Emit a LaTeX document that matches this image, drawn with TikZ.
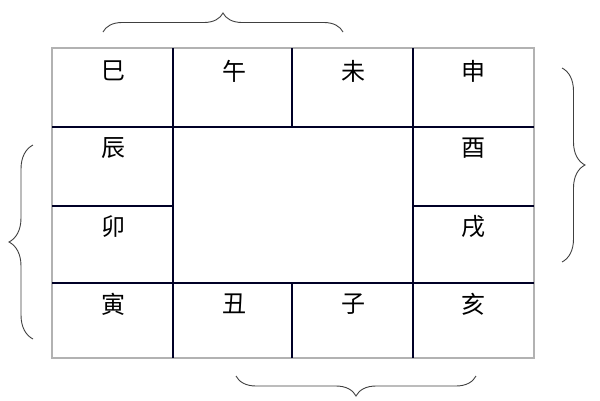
\documentclass[tikz,border=0pt]{standalone}
\usepackage{fontspec}
\newfontfamily\cjk{Noto Sans CJK SC}
\usetikzlibrary{decorations.pathreplacing}
\begin{document}
\begin{tikzpicture}[x=1pt,y=-1pt,
  branch/.style={font=\cjk\fontsize{24}{24}\selectfont,inner sep=0pt},
  cell line/.style={draw=black!85!blue,line width=1.5pt},
  frame line/.style={draw=black!30,line width=1.5pt},
  brace line/.style={draw=black!75,line width=0.9pt,decorate,decoration={brace,amplitude=#1}}]
\useasboundingbox (0,0) rectangle (600,400);
% frame
\coordinate (nw) at (52,48);
\coordinate (se) at (534,358);
\draw[frame line] (nw) rectangle (se);
\draw[cell line] (173,48) -- (173,358);
\draw[cell line] (413,48) -- (413,358);
\draw[cell line] (292,48) -- (292,127);
\draw[cell line] (292,283) -- (292,358);
\draw[cell line] (52,127) -- (534,127);
\draw[cell line] (52,283) -- (534,283);
\draw[cell line] (52,206) -- (173,206);
\draw[cell line] (413,206) -- (534,206);
% branches
\node[branch] (si)   at (113,71)  {巳};
\node[branch] (wu)   at (234,71)  {午};
\node[branch] (wei)  at (353,71)  {未};
\node[branch] (shen) at (473,71)  {申};
\node[branch] (chen) at (113,148) {辰};
\node[branch] (you)  at (473,148) {酉};
\node[branch] (mao)  at (113,227) {卯};
\node[branch] (xu)   at (473,227) {戌};
\node[branch] (yin)  at (113,304) {寅};
\node[branch] (chou) at (234,304) {丑};
\node[branch] (zi)   at (353,304) {子};
\node[branch] (hai)  at (473,304) {亥};
% braces
\coordinate (top1) at (103,32);
\coordinate (top2) at (343,32);
\coordinate (right1) at (562,68);
\coordinate (right2) at (562,262);
\coordinate (left1) at (33,339);
\coordinate (left2) at (33,145);
\coordinate (bot1) at (476,376);
\coordinate (bot2) at (236,376);
\draw[brace line=19pt] (top1) -- (top2);
\draw[brace line=23pt] (right1) -- (right2);
\draw[brace line=24pt] (left1) -- (left2);
\draw[brace line=20pt] (bot1) -- (bot2);
\end{tikzpicture}
\end{document}
